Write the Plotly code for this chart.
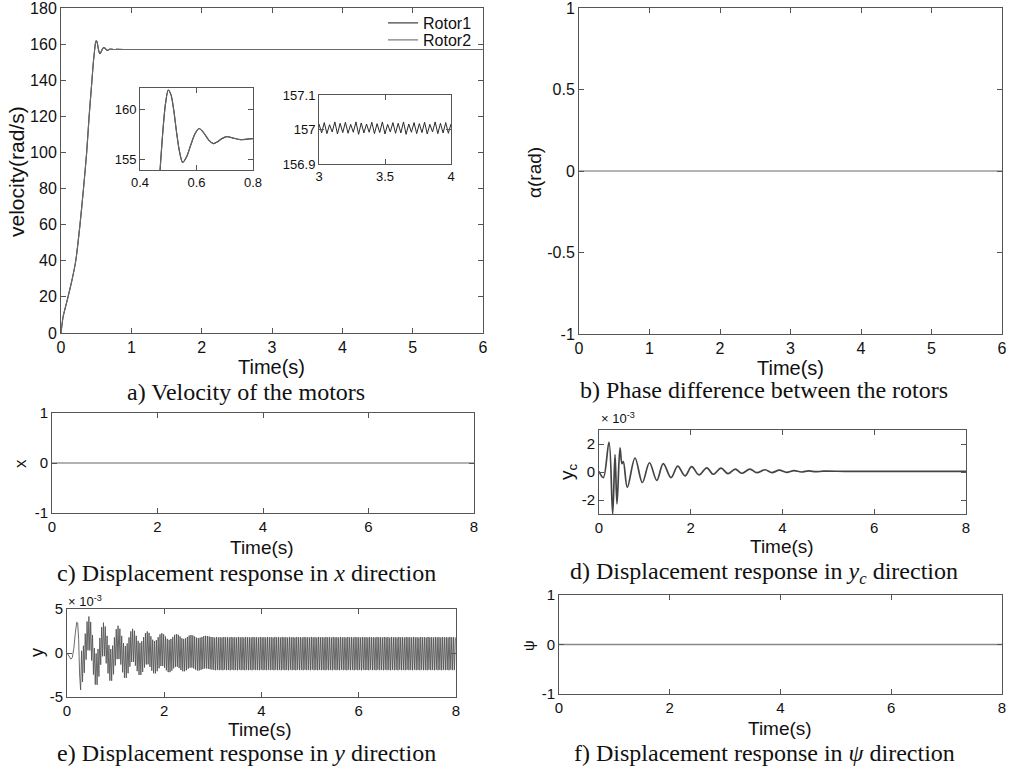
import numpy as np
import plotly.graph_objects as go

W, H = 1015, 771

# ---------------- data ----------------
# a) velocity of the motors, rad/s
VEL_T = [0, 0.03, 0.10, 0.16, 0.21, 0.27, 0.32, 0.365, 0.40, 0.44,
         0.46, 0.471, 0.48, 0.49, 0.50, 0.51, 0.52, 0.53, 0.54, 0.551,
         0.565, 0.58, 0.595, 0.609, 0.625, 0.645, 0.66, 0.675, 0.69, 0.708,
         0.73, 0.755, 0.78, 0.80, 1.0, 2.0, 3.0, 4.0, 5.0, 6.0]
VEL_ROTOR1 = [0, 9, 20, 30, 40, 60, 80, 100, 120, 140,
              150, 154, 157.5, 160.5, 161.9, 161.4, 159.8, 157.6, 155.8, 154.75,
              155.3, 156.5, 157.6, 158.1, 157.7, 156.9, 156.6, 156.8, 157.1, 157.3,
              157.15, 157.0, 157.05, 157.1, 157.0, 157.0, 157.0, 157.0, 157.0, 157.0]
VEL_ROTOR2 = [0, 9, 20, 30, 40, 60, 80, 100, 120, 140,
              150, 154, 157.5, 160.5, 161.9, 161.4, 159.8, 157.6, 155.8, 154.75,
              155.3, 156.5, 157.6, 158.1, 157.7, 156.9, 156.6, 156.8, 157.1, 157.3,
              157.15, 157.0, 157.05, 157.1, 157.0, 157.0, 157.0, 157.0, 157.0, 157.0]
# steady-state ripple shown in the second inset (t = 3 ... 4 s)
RIPPLE_T0, RIPPLE_DT = 3.0, 0.02
VEL_RIPPLE = [157.016, 156.990, 157.020, 156.988, 157.014, 156.993, 157.022, 156.987,
              157.018, 156.991, 157.021, 156.989, 157.015, 156.992, 157.022, 156.986,
              157.019, 156.990, 157.016, 156.992, 157.021, 156.988, 157.017, 156.991,
              157.022, 156.987, 157.015, 156.993, 157.020, 156.989, 157.018, 156.990,
              157.022, 156.986, 157.016, 156.992, 157.020, 156.988, 157.017, 156.991,
              157.021, 156.987, 157.015, 156.993, 157.022, 156.988, 157.018, 156.990,
              157.020, 156.989, 157.016]

# b) phase difference between the rotors, rad
ALPHA_T = [0, 6]
ALPHA = [0, 0]

# c) displacement in x
X_T = [0, 8]
X_DISP = [0, 0]

# d) displacement in y_c (x 1e-3)
YC_T = [0, 0.094, 0.218, 0.298, 0.349, 0.392, 0.458, 0.50, 0.53, 0.618,
        0.785, 0.945, 1.10, 1.26, 1.40, 1.57, 1.715, 1.875, 2.02, 2.18,
        2.35, 2.49, 2.66, 2.81, 2.97, 3.11, 3.29, 3.44, 3.62, 3.77,
        3.93, 4.09, 4.25, 4.41, 4.57, 4.73, 4.89, 5.5, 8.0]
YC = [0.05, -0.4, 2.14, -3.0, 1.25, -2.28, 1.72, 0.6, 0.75, -1.1,
      1.0, -0.75, 0.66, -0.6, 0.6, -0.4, 0.42, -0.28, 0.38, -0.21,
      0.3, -0.16, 0.28, -0.12, 0.21, -0.09, 0.2, -0.05, 0.16, -0.04,
      0.13, -0.02, 0.1, 0.0, 0.08, 0.02, 0.06, 0.04, 0.04]

# e) displacement in y (x 1e-3): slow start, then fast oscillation peaks
Y_INIT_T = [0, 0.04, 0.08, 0.11, 0.14, 0.17, 0.20, 0.22, 0.24, 0.26, 0.28]
Y_INIT = [0, -0.4, -0.7, -0.5, 0.5, 2.2, 3.5, 3.4, 1.5, -2.5, -4.2]
Y_PEAK_T0, Y_PEAK_DT = 0.30, 0.01875
Y_PEAKS_TRANSIENT = [
    0.25, -3.30, 0.82, -2.25, 2.20, -0.75, 3.58, 0.30,
    4.15, 0.29, 3.53, -0.85, 2.05, -2.45, 0.56, -3.59,
    -0.05, -3.62, 0.46, -2.67, 1.70, -1.33, 2.94, -0.38,
    3.45, -0.36, 3.01, -1.18, 1.95, -2.32, 0.89, -3.14,
    0.45, -3.15, 0.84, -2.43, 1.77, -1.42, 2.71, -0.70,
    3.10, -0.69, 2.76, -1.31, 1.95, -2.19, 1.14, -2.81,
    0.80, -2.83, 1.09, -2.30, 1.77, -1.55, 2.46, -1.02,
    2.75, -1.01, 2.52, -1.44, 1.95, -2.06, 1.38, -2.49,
    1.15, -2.50, 1.34, -2.15, 1.80, -1.65, 2.26, -1.30,
    2.45, -1.29, 2.29, -1.59, 1.90, -2.01, 1.51, -2.31,
    1.35, -2.32, 1.48, -2.07, 1.80, -1.73, 2.12, -1.48,
    2.25, -1.48, 2.14, -1.68, 1.88, -1.97, 1.61, -2.17,
    1.50, -2.18, 1.59, -2.00, 1.82, -1.75, 2.06, -1.57,
    2.15, -1.57, 2.07, -1.72, 1.88, -1.93, 1.68, -2.08,
    1.60, -2.08, 1.67, -1.96, 1.82, -1.79, 1.98, -1.67,
    2.05, -1.66, 2.00, -1.76, 1.88, -1.89, 1.75, -1.99,
    1.70, -1.99, 1.74, -1.92, 1.82, -1.83, 1.91, -1.76,
    1.95, -1.76, 1.93, -1.80, 1.88, -1.85, 1.82, -1.89]
Y_PEAKS_STEADY_CYCLE = [1.80, -1.92, 1.76, -1.96, 1.82, -1.90, 1.78, -1.95]
Y_END_T = 8.0

# f) displacement in psi
PSI_T = [0, 8]
PSI = [0, 0]

# ---------------- assemble series ----------------
ripple_t = [RIPPLE_T0 + RIPPLE_DT * i for i in range(len(VEL_RIPPLE))]

n_total = int((Y_END_T - Y_PEAK_T0) / Y_PEAK_DT) + 1
peaks = list(Y_PEAKS_TRANSIENT)
while len(peaks) < n_total:
    peaks += Y_PEAKS_STEADY_CYCLE
peaks = peaks[:n_total]
peak_t = [Y_PEAK_T0 + Y_PEAK_DT * i for i in range(n_total)]
Y_T = Y_INIT_T + peak_t
Y_DISP = Y_INIT + peaks

# ---------------- layout helpers ----------------
def dom(l, r, t, b):
    return [l / W, r / W], [1 - b / H, 1 - t / H]

def px(x, y):
    return x / W, 1 - y / H

SANS = "Liberation Sans"
SERIF = "Liberation Serif"
AX = "#555555"

def axis(domain, anchor, rng, tickvals, ticktext, size=15):
    return dict(domain=domain, anchor=anchor, range=rng, tickvals=tickvals,
                ticktext=ticktext, showline=True, linecolor=AX, linewidth=1,
                mirror="allticks", ticks="inside", ticklen=5, tickcolor=AX,
                showgrid=False, zeroline=False, automargin=False,
                ticklabeloverflow="allow",
                tickfont=dict(family=SANS, size=size, color="#111111"))

boxes = {
    "a": dom(61, 483, 8, 333),
    "a1": dom(140, 253, 88, 170),
    "a2": dom(319, 451, 95, 164),
    "b": dom(579, 1002, 8, 334),
    "c": dom(52, 474, 413, 513),
    "d": dom(599, 966, 430, 514),
    "e": dom(67, 456, 609, 697),
    "f": dom(559, 1002, 595, 694),
}

fig = go.Figure()

# a
fig.add_trace(go.Scatter(x=VEL_T, y=VEL_ROTOR1, name="Rotor1", mode="lines", legend="legend",
                         line=dict(color="#2a2a2a", width=1.1, shape="spline", smoothing=0.6),
                         xaxis="x", yaxis="y"))
fig.add_trace(go.Scatter(x=VEL_T, y=VEL_ROTOR2, name="Rotor2", mode="lines", legend="legend2",
                         line=dict(color="#6a6a6a", width=1.1, shape="spline", smoothing=0.6),
                         xaxis="x", yaxis="y"))
# inset 1
fig.add_trace(go.Scatter(x=VEL_T, y=VEL_ROTOR1, mode="lines", showlegend=False,
                         line=dict(color="#2a2a2a", width=1.2, shape="spline", smoothing=0.8),
                         xaxis="x2", yaxis="y2"))
fig.add_trace(go.Scatter(x=VEL_T, y=VEL_ROTOR2, mode="lines", showlegend=False,
                         line=dict(color="#6a6a6a", width=1, shape="spline", smoothing=0.8),
                         xaxis="x2", yaxis="y2"))
# inset 2
fig.add_trace(go.Scatter(x=ripple_t, y=VEL_RIPPLE, mode="lines", showlegend=False,
                         line=dict(color="#2a2a2a", width=1),
                         xaxis="x3", yaxis="y3"))
# b
fig.add_trace(go.Scatter(x=ALPHA_T, y=ALPHA, mode="lines", showlegend=False,
                         line=dict(color="#6a6a6a", width=1.2), xaxis="x4", yaxis="y4"))
# c
fig.add_trace(go.Scatter(x=X_T, y=X_DISP, mode="lines", showlegend=False,
                         line=dict(color="#999999", width=1.4), xaxis="x5", yaxis="y5"))
# d
fig.add_trace(go.Scatter(x=YC_T, y=YC, mode="lines", showlegend=False,
                         line=dict(color="#444444", width=1.7, shape="spline", smoothing=1.0),
                         xaxis="x6", yaxis="y6"))
# e
fig.add_trace(go.Scatter(x=Y_T, y=Y_DISP, mode="lines", showlegend=False,
                         line=dict(color="#505050", width=0.85), xaxis="x7", yaxis="y7"))
# f
fig.add_trace(go.Scatter(x=PSI_T, y=PSI, mode="lines", showlegend=False,
                         line=dict(color="#888888", width=1.4), xaxis="x8", yaxis="y8"))

def nums(vals):
    return [str(v) for v in vals]

leg_style = dict(xanchor="left", yanchor="middle", bgcolor="rgba(0,0,0,0)",
                 font=dict(family=SANS, size=16, color="#111"), itemwidth=30,
                 borderwidth=0)
lay = dict(
    width=W, height=H, margin=dict(l=0, r=0, t=0, b=0, autoexpand=False),
    paper_bgcolor="white", plot_bgcolor="white",
    showlegend=True,
    legend=dict(x=383 / W, y=1 - 23 / H, **leg_style),
    legend2=dict(x=383 / W, y=1 - 40 / H, **leg_style),
)
lay["xaxis"] = axis(boxes["a"][0], "y", [0, 6], list(range(7)), nums(range(7)), 16)
lay["yaxis"] = axis(boxes["a"][1], "x", [0, 180], list(range(0, 181, 20)), nums(range(0, 181, 20)), 16)
lay["xaxis2"] = axis(boxes["a1"][0], "y2", [0.4, 0.8], [0.4, 0.6, 0.8], ["0.4", "0.6", "0.8"], 13)
lay["yaxis2"] = axis(boxes["a1"][1], "x2", [154, 162.1], [155, 160], ["155", "160"], 13)
lay["xaxis3"] = axis(boxes["a2"][0], "y3", [3, 4], [3, 3.5, 4], ["3", "3.5", "4"], 13)
lay["yaxis3"] = axis(boxes["a2"][1], "x3", [156.9, 157.1], [156.9, 157, 157.1], ["156.9", "157", "157.1"], 13)
lay["xaxis4"] = axis(boxes["b"][0], "y4", [0, 6], list(range(7)), nums(range(7)), 16)
lay["yaxis4"] = axis(boxes["b"][1], "x4", [-1, 1], [-1, -0.5, 0, 0.5, 1], ["-1", "-0.5", "0", "0.5", "1"], 16)
lay["xaxis5"] = axis(boxes["c"][0], "y5", [0, 8], [0, 2, 4, 6, 8], ["0", "2", "4", "6", "8"], 15)
lay["yaxis5"] = axis(boxes["c"][1], "x5", [-1, 1], [-1, 0, 1], ["-1", "0", "1"], 15)
lay["xaxis6"] = axis(boxes["d"][0], "y6", [0, 8], [0, 2, 4, 6, 8], ["0", "2", "4", "6", "8"], 15)
lay["yaxis6"] = axis(boxes["d"][1], "x6", [-3, 3], [-2, 0, 2], ["-2", "0", "2"], 15)
lay["xaxis7"] = axis(boxes["e"][0], "y7", [0, 8], [0, 2, 4, 6, 8], ["0", "2", "4", "6", "8"], 15)
lay["yaxis7"] = axis(boxes["e"][1], "x7", [-5, 5], [-5, 0, 5], ["-5", "0", "5"], 15)
lay["xaxis8"] = axis(boxes["f"][0], "y8", [0, 8], [0, 2, 4, 6, 8], ["0", "2", "4", "6", "8"], 15)
lay["yaxis8"] = axis(boxes["f"][1], "x8", [-1, 1], [-1, 0, 1], ["-1", "0", "1"], 15)

annotations = []

def note(text, x, y, size, family=SANS, angle=0, xanchor="center"):
    ax, ay = px(x, y)
    annotations.append(dict(text=text, x=ax, y=ay, xref="paper", yref="paper",
                            showarrow=False, textangle=angle, xanchor=xanchor,
                            yanchor="middle",
                            font=dict(family=family, size=size, color="#111111")))

# axis titles
note("velocity(rad/s)", 16, 172, 21, angle=-90)
note("α(rad)", 535, 173, 19, angle=-90)
note("x", 20, 464, 17, angle=-90)
note("y<sub>c</sub>", 568, 472, 19, angle=-90)
note("y", 37, 653, 18, angle=-90)
note("ψ", 528, 646, 15, angle=-90)
note("Time(s)", 271, 367, 20)
note("Time(s)", 790, 368, 20)
note("Time(s)", 262, 547, 19)
note("Time(s)", 782, 546, 19)
note("Time(s)", 260, 729, 19)
note("Time(s)", 780, 728, 19)
# exponent labels
note("× 10<sup>-3</sup>", 599, 418, 13, xanchor="left")
note("× 10<sup>-3</sup>", 66, 601, 13, xanchor="left")
# captions
note("a) Velocity of the motors", 246, 392, 24, family=SERIF)
note("b) Phase difference between the rotors", 764, 390, 24, family=SERIF)
note("c) Displacement response in <i>x</i> direction", 246, 573, 24, family=SERIF)
note("d) Displacement response in <i>y<sub>c</sub></i> direction", 764, 573, 24, family=SERIF)
note("e) Displacement response in <i>y</i> direction", 246, 753, 24, family=SERIF)
note("f) Displacement response in <i>ψ</i> direction", 764, 753, 24, family=SERIF)

lay["annotations"] = annotations
fig.update_layout(**lay)
fig.write_html(
    "out.html",
    config={"displayModeBar": False},
    post_script="document.body.style.margin='0';document.body.style.overflow='hidden';",
)
